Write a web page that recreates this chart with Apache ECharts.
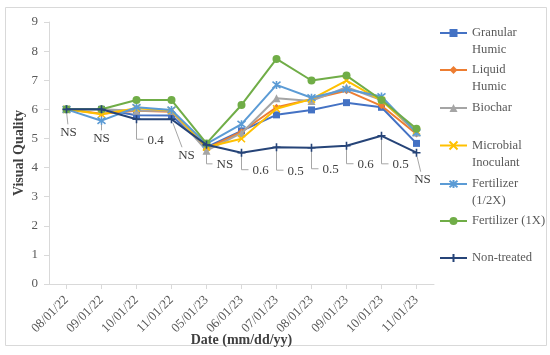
<!DOCTYPE html>
<html>
<head>
<meta charset="utf-8">
<script src="https://cdn.jsdelivr.net/npm/echarts@6/dist/echarts.min.js"></script>
<style>
  html, body { margin: 0; padding: 0; background: #fff; }
  #chart { width: 550px; height: 355px; }
</style>
</head>
<body>
<div id="chart"></div>
<script>
// ---- Data ----
const dates = ['08/01/22','09/01/22','10/01/22','11/01/22','05/01/23','06/01/23','07/01/23','08/01/23','09/01/23','10/01/23','11/01/23'];
const seriesNames = ['Granular Humic','Liquid Humic','Biochar','Microbial Inoculant','Fertilizer (1/2X)','Fertilizer (1X)','Non-treated'];
const granularHumic = [6.0, 6.0, 5.8, 5.79, 4.7, 5.26, 5.81, 5.98, 6.23, 6.07, 4.83];
const liquidHumic   = [6.0, 5.85, 5.95, 5.92, 4.65, 5.23, 6.07, 6.35, 6.64, 6.12, 5.15];
const biochar       = [6.0, 6.0, 5.95, 5.95, 4.58, 5.18, 6.38, 6.29, 6.76, 6.32, 5.2];
const microbial     = [6.0, 5.83, 6.04, 5.96, 4.7, 4.99, 6.02, 6.35, 6.99, 6.3, 5.25];
const fertHalf      = [6.0, 5.61, 6.07, 5.98, 4.81, 5.49, 6.84, 6.4, 6.69, 6.44, 5.2];
const fertFull      = [6.0, 6.0, 6.32, 6.32, 4.83, 6.15, 7.73, 6.99, 7.16, 6.32, 5.33];
const nonTreated    = [6.0, 6.0, 5.66, 5.66, 4.78, 4.51, 4.7, 4.68, 4.75, 5.09, 4.51];
const sigLabels     = ['NS','NS','0.4','NS','NS','0.6','0.5','0.5','0.6','0.5','NS'];
const yTicks = [0,1,2,3,4,5,6,7,8,9];

// ---- Styles ----
const FONT = '"Liberation Serif", "DejaVu Serif", serif';
const colors = ['#4472C4','#ED7D31','#A5A5A5','#FFC000','#5B9BD5','#70AD47','#264478'];
const symbols = ['rect','diamond','triangle','path://M0,0L10,10M10,0L0,10','path://M5,0L5,10M1,1L9,9M9,1L1,9','circle','path://M5,0L5,10M0,5L10,5'];
const symbolSizes = [7, 7, 8, 7, 8, 8, 8];
const strokeOnly = [false,false,false,true,true,false,true];
const legendLabels = ['Granular\nHumic','Liquid\nHumic','Biochar','Microbial\nInoculant','Fertilizer\n(1/2X)','Fertilizer (1X)','Non-treated'];
const legendFirstLineY = [33, 70, 108, 145.5, 184, 221, 258];
// callout style: [kind, dx, dy] ; 'L' = elbow leader with left-anchored text; 'v' = straight leader, centered text
const callouts = [['v',2,23],['v',0,29],['L',11,21],['v',15,36],['L',10,20],['L',11,18],['L',11,24],['L',11,22],['L',11,19],['L',11,29],['v',6,27]];

const allValues = [granularHumic, liquidHumic, biochar, microbial, fertHalf, fertFull, nonTreated];
const LH = 17;

const legends = seriesNames.map((name, i) => {
  const twoLine = legendLabels[i].indexOf('\n') >= 0;
  const itemH = 10;
  const blockH = twoLine ? LH * 3 : LH;
  // for two-line labels, a blank leading line puts the first text line level with the symbol
  const label = twoLine ? ' \n' + legendLabels[i] : legendLabels[i];
  return {
    data: [name],
    orient: 'vertical',
    left: 439,
    top: legendFirstLineY[i] - blockH / 2,
    padding: 0,
    itemWidth: 27,
    itemHeight: itemH,
    formatter: () => label,
    textStyle: { fontFamily: FONT, fontSize: 12.6, color: '#595959', lineHeight: LH },
    selectedMode: false
  };
});

const lineSeries = seriesNames.map((name, i) => ({
  name: name,
  type: 'line',
  data: allValues[i],
  symbol: symbols[i],
  symbolSize: symbolSizes[i],
  showAllSymbol: true,
  z: 3 + i,
  lineStyle: { color: colors[i], width: 2 },
  itemStyle: strokeOnly[i]
    ? { color: colors[i], borderColor: colors[i], borderWidth: 1.6 }
    : { color: colors[i], borderColor: colors[i], borderWidth: 0 },
  emphasis: { disabled: true },
  animation: false
}));

const calloutSeries = {
  type: 'custom',
  name: 'callouts',
  z: 1,
  silent: true,
  animation: false,
  data: nonTreated.map((v, i) => [i, v]),
  renderItem: function (params, api) {
    const i = params.dataIndex;
    const p = api.coord([api.value(0), api.value(1)]);
    const c = callouts[i];
    const kind = c[0], dx = c[1], dy = c[2];
    const lineStyle = { stroke: '#A6A6A6', lineWidth: 1, fill: null };
    const textStyle = { text: sigLabels[i], fontFamily: FONT, fontSize: 13, fill: '#404040' };
    const children = [];
    if (kind === 'L') {
      const cy = p[1] + dy - 1;
      children.push({ type: 'polyline', shape: { points: [[p[0], p[1] + 3], [p[0], cy], [p[0] + dx - 4, cy]] }, style: lineStyle });
      children.push({ type: 'text', x: p[0] + dx, y: p[1] + dy, style: Object.assign({ align: 'left', verticalAlign: 'middle' }, textStyle) });
    } else {
      children.push({ type: 'line', shape: { x1: p[0] + dx * 0.1, y1: p[1] + 4, x2: p[0] + dx * 0.7, y2: p[1] + dy - 8 }, style: lineStyle });
      children.push({ type: 'text', x: p[0] + dx, y: p[1] + dy, style: Object.assign({ align: 'center', verticalAlign: 'middle' }, textStyle) });
    }
    return { type: 'group', children: children };
  }
};

const chart = echarts.init(document.getElementById('chart'), null, { renderer: 'canvas' });
chart.setOption({
  animation: false,
  backgroundColor: '#ffffff',
  color: colors,
  grid: { left: 49, right: 116, top: 22, bottom: 71, containLabel: false, outerBoundsMode: 'none' },
  legend: legends,
  graphic: [{
    type: 'rect', left: 3, top: 5, shape: { width: 541, height: 338 },
    style: { fill: null, stroke: '#D9D9D9', lineWidth: 1 }, silent: true
  }],
  xAxis: {
    type: 'category',
    data: dates,
    boundaryGap: true,
    name: 'Date (mm/dd/yy)',
    nameLocation: 'middle',
    nameGap: 49,
    nameMoveOverlap: false,
    nameTextStyle: { fontFamily: FONT, fontSize: 14, fontWeight: 'bold', color: '#404040' },
    axisLine: { show: true, lineStyle: { color: '#D9D9D9', width: 1 } },
    axisTick: { show: true, alignWithLabel: true, length: 5, interval: 0, lineStyle: { color: '#D9D9D9' } },
    axisLabel: { interval: 0, rotate: 45, margin: 14, fontFamily: FONT, fontSize: 13, color: '#595959' },
    splitLine: { show: false }
  },
  yAxis: {
    type: 'value',
    min: yTicks[0],
    max: yTicks[yTicks.length - 1],
    interval: 1,
    name: 'Visual Quality',
    nameLocation: 'middle',
    nameGap: 23,
    nameMoveOverlap: false,
    nameTextStyle: { fontFamily: FONT, fontSize: 14, fontWeight: 'bold', color: '#404040' },
    axisLine: { show: true, lineStyle: { color: '#D9D9D9', width: 1 } },
    axisTick: { show: true, length: 5, lineStyle: { color: '#D9D9D9' } },
    axisLabel: { margin: 11, fontFamily: FONT, fontSize: 13, color: '#595959' },
    splitLine: { show: false }
  },
  series: [calloutSeries].concat(lineSeries)
});
</script>
</body>
</html>
